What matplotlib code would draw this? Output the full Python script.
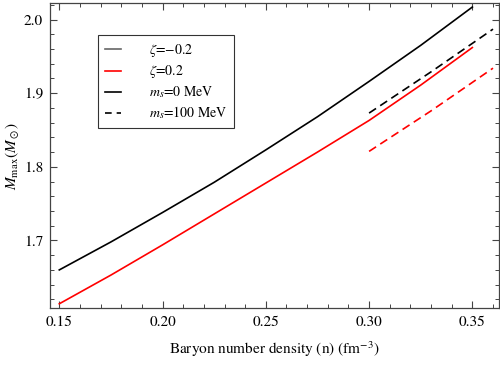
import numpy as np
import matplotlib
matplotlib.use('Agg')
import matplotlib.pyplot as plt
from matplotlib.lines import Line2D
from matplotlib.ticker import MultipleLocator, FormatStrFormatter

plt.rcParams['font.family'] = ['STIXGeneral', 'DejaVu Serif']
plt.rcParams['mathtext.fontset'] = 'stix'

# baryon number density (fm^-3)
n_full = [0.15, 0.175, 0.20, 0.225, 0.25, 0.275, 0.30, 0.325, 0.35]
# m_s = 0 MeV
m_neg_ms0 = [1.660, 1.698, 1.738, 1.779, 1.823, 1.868, 1.916, 1.965, 2.017]
m_pos_ms0 = [1.614, 1.653, 1.694, 1.736, 1.778, 1.820, 1.863, 1.911, 1.962]
# m_s = 100 MeV
n_part = [0.30, 0.33, 0.36]
m_neg_ms100 = [1.873, 1.929, 1.987]
m_pos_ms100 = [1.821, 1.876, 1.934]

fig = plt.figure(figsize=(5, 3.65), dpi=100)
ax = fig.add_axes([0.1, 0.155, 0.898, 0.837])

ax.plot(n_full, m_neg_ms0, color='black', lw=1.2)
ax.plot(n_full, m_pos_ms0, color='red', lw=1.2)
ax.plot(n_part, m_neg_ms100, color='black', lw=1.2, ls=(0, (5, 3)))
ax.plot(n_part, m_pos_ms100, color='red', lw=1.2, ls=(0, (5, 3)))

ax.set_xlim(0.1455, 0.3629)
ax.set_ylim(1.6077, 2.0226)
ax.xaxis.set_major_locator(MultipleLocator(0.05))
ax.xaxis.set_minor_locator(MultipleLocator(0.01))
ax.yaxis.set_major_locator(MultipleLocator(0.1))
ax.yaxis.set_minor_locator(MultipleLocator(0.02))
ax.xaxis.set_major_formatter(FormatStrFormatter('%.2f'))
ax.yaxis.set_major_formatter(FormatStrFormatter('%.1f'))
ax.tick_params(which='both', direction='in', top=True, right=True,
               color='#444444', labelsize=11, pad=5)
ax.tick_params(which='major', length=5, width=0.8)
ax.tick_params(which='minor', length=3, width=0.7)
for s in ax.spines.values():
    s.set_color('#444444')
    s.set_linewidth(0.9)

ax.set_xlabel('Baryon number density (n) (fm$^{-3}$)', fontsize=11, labelpad=8)
ax.set_ylabel(r'$M_{\rm max}(M_\odot)$', fontsize=11, labelpad=2)

handles = [
    Line2D([], [], color='#666666', lw=1.2),
    Line2D([], [], color='red', lw=1.2),
    Line2D([], [], color='black', lw=1.2),
    Line2D([], [], color='black', lw=1.2, ls=(0, (4, 3))),
]
labels = [r'$\zeta$=−0.2', r'$\zeta$=0.2', r'$m_s$=0 MeV', r'$m_s$=100 MeV']
leg = ax.legend(handles, labels, loc='upper left', bbox_to_anchor=(0.106, 0.894),
                prop={'size': 10}, frameon=True, fancybox=False, edgecolor='black',
                handlelength=1.2, handletextpad=2.0, labelspacing=0.3,
                borderpad=0.5, borderaxespad=0)
leg.get_frame().set_linewidth(0.8)

fig.savefig('out.png', dpi=100)
